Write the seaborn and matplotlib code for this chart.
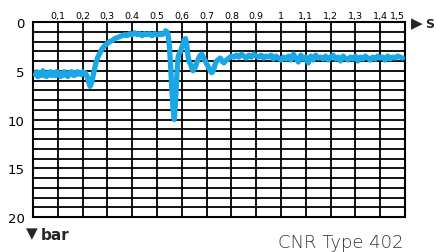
import matplotlib
matplotlib.use("Agg")
import matplotlib.pyplot as plt
import seaborn as sns
import pandas as pd

sns.set_style("white")
plt.rcParams['font.family'] = ['DejaVu Sans']

# time (s)
t_seg1 = [0.010,0.015,0.020,0.025,0.030,0.035,0.040,0.045,0.050,0.055,0.060,0.065,0.070,0.075,0.080,
          0.085,0.090,0.095,0.100,0.105,0.110,0.115,0.120,0.125,0.130,0.135,0.140,0.145,0.150,0.155,
          0.160,0.165,0.170,0.175,0.180,0.185,0.190,0.195,0.200,0.205,0.210]
p_seg1 = [5.4,5.1,5.6,5.2,5.5,5.3,5.0,5.5,5.3,5.6,5.2,5.4,5.1,5.5,5.3,
          5.2,5.5,5.1,5.4,5.2,5.6,5.3,5.5,5.1,5.4,5.3,5.6,5.2,5.4,5.1,
          5.3,5.5,5.2,5.4,5.1,5.3,5.2,5.4,5.1,5.3,5.2]

t_seg2 = [0.215,0.22,0.225,0.23,0.235,0.24,0.245,0.25,0.255,0.26,0.265,0.27,0.275,0.28,0.29,0.30,
          0.31,0.32,0.33,0.34,0.35,0.36,0.37,0.38,0.39,0.40,0.41,0.42,0.43,0.44,0.45,0.46,0.47,
          0.48,0.49,0.50,0.51,0.52,0.53,0.535,0.54,0.545]
p_seg2 = [5.4,5.7,6.2,6.6,6.3,5.8,5.2,4.6,4.1,3.7,3.4,3.2,2.9,2.7,2.4,2.2,
          2.0,1.9,1.7,1.6,1.5,1.4,1.3,1.4,1.2,1.3,1.1,1.3,1.2,1.4,1.2,1.3,1.2,
          1.4,1.2,1.3,1.2,1.3,1.1,0.9,1.0,1.4]

t_seg3 = [0.55,0.555,0.56,0.565,0.57,0.575,0.58,0.585,0.59,0.595,0.60,0.605,0.61,0.615,0.62,0.625,
          0.63,0.635,0.64,0.645,0.65,0.655,0.66,0.665,0.67,0.675,0.68,0.685,0.69,0.695,0.70,0.705,
          0.71,0.715,0.72,0.725,0.73,0.735,0.74,0.745,0.75,0.755,0.76,0.765,0.77,0.775,0.78,0.785,
          0.79,0.80,0.81]
p_seg3 = [2.5,4.5,7.0,9.0,10.0,8.0,5.5,3.6,3.2,3.0,2.6,2.3,1.8,1.7,2.4,3.5,
          4.1,4.3,4.7,5.0,4.8,4.6,4.2,3.9,3.6,3.4,3.3,3.5,3.8,4.0,4.3,4.5,
          4.8,5.0,5.2,5.1,4.7,4.3,4.0,3.9,3.8,3.7,3.9,4.1,4.2,4.0,3.9,3.8,
          3.7,3.5,3.6]

t_seg4 = [0.82,0.83,0.84,0.85,0.86,0.87,0.88,0.89,0.90,0.91,0.92,0.93,0.94,0.95,0.96,0.97,0.98,0.99,
          1.00,1.01,1.02,1.03,1.04,1.05,1.06,1.07,1.08,1.09,1.10,1.11,1.12,1.13,1.14,1.15,1.16,1.17,
          1.18,1.19,1.20,1.21,1.22,1.23,1.24,1.25,1.26,1.27,1.28,1.29,1.30,1.31,1.32,1.33,1.34,1.35,
          1.36,1.37,1.38,1.39,1.40,1.41,1.42,1.43,1.44,1.45,1.46,1.47,1.48,1.49]
p_seg4 = [3.4,3.6,3.3,3.5,3.7,3.4,3.6,3.3,3.5,3.6,3.4,3.7,3.5,3.6,3.4,3.8,3.5,3.7,
          3.9,3.6,3.8,3.5,3.9,3.3,3.7,4.1,3.4,3.8,3.6,4.2,3.5,3.9,3.4,3.7,3.6,3.8,
          3.5,3.9,3.6,3.4,3.8,3.6,4.0,3.5,3.7,3.9,3.6,3.8,3.5,4.0,3.6,3.8,3.5,3.7,
          3.9,3.6,3.8,3.5,3.7,3.6,3.9,3.5,3.8,3.6,3.7,3.5,3.6,3.7]

x_labels = ["0,1", "0,2", "0,3", "0.4", "0.5", "0,6", "0.7", "0.8", "0.9", "1",
            "1,1", "1,2", "1,3", "1,4", "1,5"]
y_labels = ["0", "5", "10", "15", "20"]

df = pd.DataFrame({"t": t_seg1 + t_seg2 + t_seg3 + t_seg4,
                   "p": p_seg1 + p_seg2 + p_seg3 + p_seg4})

fig = plt.figure(figsize=(4.36, 2.53), dpi=100)
ax = fig.add_axes([33/436, 1 - 218/253, (405 - 33)/436, (218 - 23)/253])

sns.lineplot(data=df, x="t", y="p", ax=ax, color="#1aa7e6", linewidth=3.8,
             sort=False, estimator=None, zorder=3)

ax.set_xlim(0, 1.5)
ax.set_ylim(20, 0)
xt = [i / 10 for i in range(1, 16)]
ax.set_xticks(xt)
ax.set_xticklabels(x_labels)
ax.xaxis.tick_top()
ax.set_yticks(list(range(0, 21)))
ax.set_yticklabels([y_labels[v // 5] if v % 5 == 0 else "" for v in range(0, 21)])
ax.tick_params(axis="x", length=0, pad=1.5, labelsize=6.8, colors="black")
ax.tick_params(axis="y", length=0, pad=6, labelsize=9.5, colors="black")
for lab in ax.get_xticklabels():
    if lab.get_text() == "1,5":
        lab.set_horizontalalignment("right")
ax.grid(True, color="black", linewidth=1.3)
for s in ax.spines.values():
    s.set_visible(True)
    s.set_color("black")
    s.set_linewidth(1.5)
ax.set_xlabel("")
ax.set_ylabel("")

# axis arrows and labels
fig.text(411/436, 1 - 24/253, "\u25B6", fontsize=11, va="center", ha="left")
fig.text(425/436, 1 - 24/253, "S", fontsize=9, va="center", ha="left", fontweight="bold")
fig.text(26/436, 1 - 234/253, "\u25BC", fontsize=11, va="center", ha="left")
fig.text(41/436, 1 - 236/253, "bar", fontsize=11, va="center", ha="left", fontweight="bold")
fig.text(403/436, 1 - 243/253, "CNR Type 402", fontsize=13, va="center", ha="right",
         color="#333333", fontweight="light")

fig.savefig("out.png", dpi=100)
